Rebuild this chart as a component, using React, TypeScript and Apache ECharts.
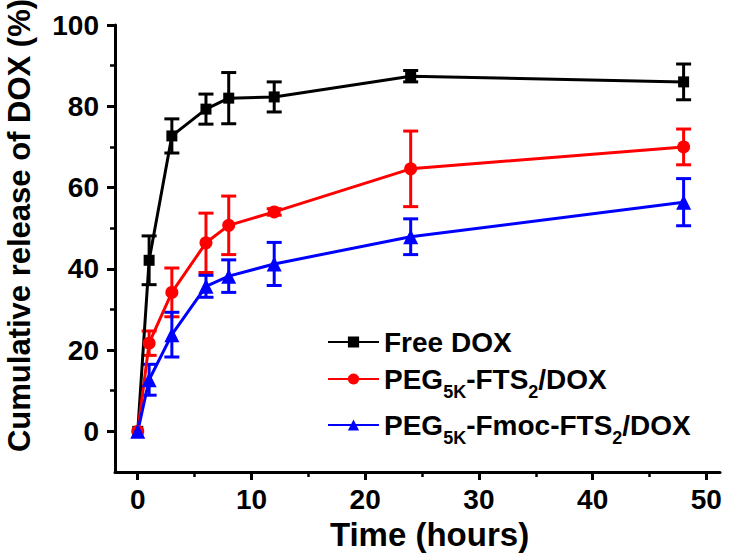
import React, { useEffect, useRef } from "react";
import * as echarts from "echarts";

const times = [0, 1, 3, 6, 8, 12, 24, 48];
const freeDox = [0, 42.1, 72.7, 79.3, 82.0, 82.3, 87.4, 86.0];
const freeDoxErr = [0, 6.0, 4.2, 3.7, 6.3, 3.7, 1.4, 4.4];
const pegFts = [0, 21.7, 34.2, 46.4, 50.7, 54.0, 64.6, 70.0];
const pegFtsErr = [0, 3.0, 6.0, 7.3, 7.2, 0.8, 9.3, 4.4];
const pegFmoc = [0, 12.7, 23.8, 35.7, 38.2, 41.2, 47.9, 56.4];
const pegFmocErr = [0, 3.8, 5.5, 2.7, 4.0, 5.3, 4.4, 5.8];

const xMajorTicks = [0, 10, 20, 30, 40, 50];
const xMinorTicks = [5, 15, 25, 35, 45];
const yMajorTicks = [0, 20, 40, 60, 80, 100];
const yMinorTicks = [10, 30, 50, 70, 90];

const seriesNames = ["Free DOX", "PEG5K-FTS2/DOX", "PEG5K-Fmoc-FTS2/DOX"];
const legendLabels = [
  "Free DOX",
  "{m|PEG}{s|5K}{m|-FTS}{s|2}{m|/DOX}",
  "{m|PEG}{s|5K}{m|-Fmoc-FTS}{s|2}{m|/DOX}",
];

const FONT = "'Liberation Sans', Arial, sans-serif";

export default function App() {
  const ref = useRef<HTMLDivElement>(null);
  useEffect(() => {
    if (!ref.current) return;
    const chart = echarts.init(ref.current, undefined, { renderer: "svg" });
    const colors = ["#000000", "#ff0000", "#0000ff"];
    const means = [freeDox, pegFts, pegFmoc];
    const errs = [freeDoxErr, pegFtsErr, pegFmocErr];
    const symbols = ["rect", "circle", "triangle"];
    const symbolSizes = [11, 13, 15];

    const lineSeries = means.map((m, i) => ({
      name: seriesNames[i],
      type: "line",
      data: times.map((t, j) => [t, m[j]]),
      symbol: symbols[i],
      symbolSize: symbolSizes[i],
      showSymbol: true,
      itemStyle: { color: colors[i] },
      lineStyle: { color: colors[i], width: 3 },
      z: 3,
    }));

    const errSeries = means.map((m, i) => ({
      name: seriesNames[i] + " err",
      type: "custom",
      data: times.map((t, j) => [t, m[j] - errs[i][j], m[j] + errs[i][j], errs[i][j]]),
      encode: { x: 0, y: [1, 2] },
      z: 2,
      renderItem: (params: any, api: any) => {
        if (api.value(3) === 0) return null;
        const x = api.value(0);
        const top = api.coord([x, api.value(2)]);
        const bot = api.coord([x, api.value(1)]);
        const hw = 7.5;
        const style = { stroke: colors[i], lineWidth: 3 };
        return {
          type: "group",
          children: [
            { type: "line", shape: { x1: top[0], y1: top[1], x2: bot[0], y2: bot[1] }, style },
            { type: "line", shape: { x1: top[0] - hw, y1: top[1], x2: top[0] + hw, y2: top[1] }, style },
            { type: "line", shape: { x1: bot[0] - hw, y1: bot[1], x2: bot[0] + hw, y2: bot[1] }, style },
          ],
        };
      },
    }));

    const legendTops = [326, 357.5, 403.5];
    const legends = seriesNames.map((n, i) => ({
      data: [n],
      left: 327,
      top: legendTops[i],
      orient: "vertical",
      padding: 0,
      itemWidth: 51,
      itemHeight: 14,
      formatter: () => legendLabels[i],
      textStyle: {
        fontFamily: FONT,
        fontWeight: "bold",
        fontSize: 28,
        color: "#000",
        lineHeight: 32,
        rich: {
          m: { fontFamily: FONT, fontWeight: "bold", fontSize: 28, lineHeight: 32, color: "#000" },
          s: {
            fontFamily: FONT,
            fontWeight: "bold",
            fontSize: 18,
            lineHeight: 18,
            padding: [25, 0, 0, 0],
            color: "#000",
          },
        },
      },
    }));

    const axisLine = { show: true, onZero: false, lineStyle: { color: "#000", width: 3 } };
    const hiddenLine = { show: false, onZero: false };
    const labelStyle = { fontFamily: FONT, fontWeight: "bold", fontSize: 28, color: "#000" };

    chart.setOption({
      animation: false,
      backgroundColor: "#ffffff",
      grid: { left: 115, right: 11, top: 25, bottom: 86, containLabel: false, outerBoundsMode: "none" },
      legend: legends,
      xAxis: [
        {
          type: "value",
          min: -2,
          max: 51.2,
          position: "bottom",
          axisLine,
          splitLine: { show: false },
          axisTick: { show: true, inside: false, length: 8, customValues: xMajorTicks, lineStyle: { width: 3, color: "#000" } },
          axisLabel: { ...labelStyle, margin: 13, customValues: xMajorTicks },
          name: "Time (hours)",
          nameLocation: "middle",
          nameGap: 43,
          nameTextStyle: { fontFamily: FONT, fontWeight: "bold", fontSize: 33, color: "#000", padding: [0, 0, 0, 24] },
        },
        {
          type: "value",
          min: -2,
          max: 51.2,
          position: "bottom",
          axisLine: hiddenLine,
          splitLine: { show: false },
          axisTick: { show: true, inside: false, length: 5, customValues: xMinorTicks, lineStyle: { width: 2.5, color: "#000" } },
          axisLabel: { show: false },
        },
      ],
      yAxis: [
        {
          type: "value",
          min: -10,
          max: 100,
          position: "left",
          axisLine,
          splitLine: { show: false },
          axisTick: { show: true, inside: false, length: 8, customValues: yMajorTicks, lineStyle: { width: 3, color: "#000" } },
          axisLabel: { ...labelStyle, margin: 16, customValues: yMajorTicks },
          name: "Cumulative release of DOX (%)",
          nameLocation: "middle",
          nameGap: 80,
          nameRotate: 90,
          nameTextStyle: { fontFamily: FONT, fontWeight: "bold", fontSize: 31, color: "#000", padding: [0, 0, 0, 46] },
        },
        {
          type: "value",
          min: -10,
          max: 100,
          position: "left",
          axisLine: hiddenLine,
          splitLine: { show: false },
          axisTick: { show: true, inside: false, length: 5, customValues: yMinorTicks, lineStyle: { width: 2.5, color: "#000" } },
          axisLabel: { show: false },
        },
      ],
      series: [...errSeries, ...lineSeries],
    });
    return () => chart.dispose();
  }, []);
  return (
    <div
      ref={ref}
      style={{ position: "fixed", left: 0, top: 0, width: 731, height: 558 }}
    />
  );
}
